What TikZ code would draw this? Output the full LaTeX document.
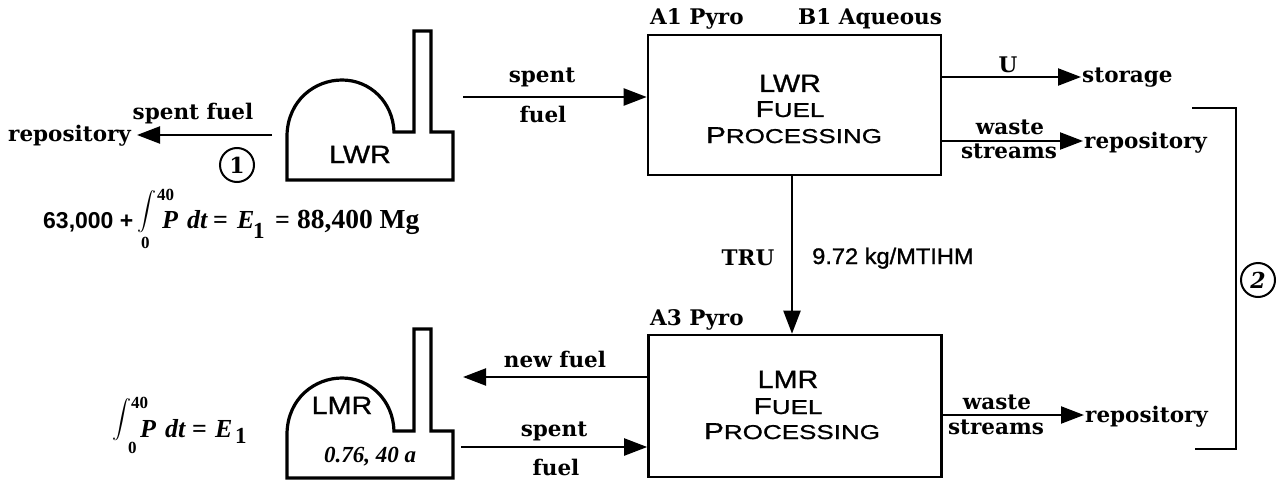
\documentclass[tikz,border=0pt]{standalone}
\usepackage{fontspec}
\usetikzlibrary{arrows.meta}
\setmainfont{Liberation Serif}
\newfontfamily\bkfam{DejaVu Serif}[BoldFont={DejaVu Serif Bold}]
\newfontfamily\copa[FakeStretch=1.15,FakeBold=1]{Liberation Sans}
\newfontfamily\copb[FakeStretch=1.3,FakeBold=1]{Liberation Sans}
\newfontfamily\sansw[FakeStretch=1.05,FakeBold=1.2]{Liberation Sans}
\newfontfamily\sansb{Liberation Sans Bold}
\newcommand{\bk}{\bkfam\bfseries\fontsize{21.5}{24}\selectfont}
\newcommand{\bigc}[1]{{\copa\fontsize{25}{25}\selectfont #1}}
\newcommand{\smc}[2]{{\copb\fontsize{23}{23}\selectfont #1\fontsize{20}{20}\selectfont #2}}
\newcommand{\eqf}{\fontsize{26}{26}\selectfont\bfseries}
\tikzset{
  x=1pt,y=-1pt,
  lab/.style={font=\bk,anchor=base,inner sep=0pt},
  labw/.style={font=\bk,anchor=base west,inner sep=0pt},
  plain/.style={anchor=base,inner sep=0pt},
  plainw/.style={anchor=base west,inner sep=0pt},
  procbox/.style={draw,line width=2.6pt,minimum width=293pt,inner sep=0pt},
  flow/.style={line width=2.2pt,-{Triangle[length=23pt,width=17pt]}},
  reactor/.style={line width=3.2pt,line join=miter},
  bracket/.style={line width=2.4pt},
  ringed/.style={draw,circle,line width=2pt,minimum size=34pt,inner sep=0pt,font=\bkfam\bfseries\fontsize{22}{22}\selectfont},
  intsign/.style={inner sep=0pt,anchor=center}
}
\begin{document}
\begin{tikzpicture}
\useasboundingbox (0,0) rectangle (1287,492);
% process boxes
\node[procbox,minimum height=140pt] (lwrbox) at (794.5,105) {};
\node[procbox,minimum height=142pt] (lmrbox) at (795,406) {};
% reactors
\draw[reactor] (287,180) -- (287,135) .. controls (288,100) and (315,80) .. (342,80) .. controls (370,80) and (393,102) .. (394,132) -- (414,132) -- (414,31) -- (431,31) -- (431,132) -- (453,132) -- (453,180) -- cycle;
\draw[reactor] (287,478) -- (287,433) .. controls (288,398) and (315,378) .. (342,378) .. controls (370,378) and (393,400) .. (394,431) -- (414,431) -- (414,329) -- (431,329) -- (431,431) -- (453,431) -- (453,478) -- cycle;
\node[plain,font=\copa\fontsize{25}{25}\selectfont] (lwrlab) at (360,163) {LWR};
\node[plain,font=\copa\fontsize{25}{25}\selectfont] (lmrlab) at (342,414) {LMR};
\node[plain,font=\fontsize{23}{23}\selectfont\bfseries\itshape] (lmrparam) at (370,462) {0.76, 40 a};
% box texts
\node[plain] (t1a) at (790,92) {\bigc{LWR}};
\node[plain] (t1b) at (790,117) {\smc{F}{UEL}};
\node[plain] (t1c) at (794,143) {\smc{P}{ROCESSING}};
\node[plain] (t2a) at (788,388) {\bigc{LMR}};
\node[plain] (t2b) at (788,414) {\smc{F}{UEL}};
\node[plain] (t2c) at (792,439) {\smc{P}{ROCESSING}};
\node[labw] (a1) at (650,25) {A1 Pyro};
\node[labw] (b1) at (798,25) {B1 Aqueous};
\node[labw] (a3) at (650,325) {A3 Pyro};
% anchors of connectors
\coordinate (rw) at (272,135);
\coordinate (rwend) at (137,135);
\coordinate (sf1) at (463,97);
\coordinate (sf2) at (461,447);
\coordinate (nf) at (463,377);
\coordinate (uend) at (1081,77);
\coordinate (w1end) at (1083,141);
\coordinate (w2end) at (1084,415);
\coordinate (trux) at (792,0);
\coordinate (br1) at (1192,108);
\coordinate (br2) at (1236,108);
\coordinate (br3) at (1236,449);
\coordinate (br4) at (1195,449);
% connectors
\draw[flow] (rw) -- (rwend);
\draw[flow] (sf1) -- (sf1 -| lwrbox.west);
\draw[flow] (sf2) -- (sf2 -| lmrbox.west);
\draw[flow] (nf -| lmrbox.west) -- (nf);
\draw[flow] (uend -| lwrbox.east) -- (uend);
\draw[flow] (w1end -| lwrbox.east) -- (w1end);
\draw[flow] (w2end -| lmrbox.east) -- (w2end);
\draw[flow] (lwrbox.south -| trux) -- (lmrbox.north -| trux);
\draw[bracket] (br1) -- (br2) -- (br3) -- (br4);
% arrow labels
\node[labw] (rep0) at (8,142) {repository};
\node[lab] (sfl) at (193,120) {spent fuel};
\node[ringed] (c1) at (237,165) {1};
\node[lab] (sp1) at (542,83) {spent};
\node[lab] (fu1) at (543,123) {fuel};
\node[lab] (sp2) at (554,436) {spent};
\node[lab] (fu2) at (556,475) {fuel};
\node[lab] (newf) at (555,367) {new fuel};
\node[lab] (ulab) at (1008,73) {U};
\node[labw] (stor) at (1082,83) {storage};
\node[lab] (w1) at (1010,135) {waste};
\node[lab] (s1) at (1009,158) {streams};
\node[labw] (rep1) at (1084,148) {repository};
\node[lab] (w2) at (997,409) {waste};
\node[lab] (s2) at (996,434) {streams};
\node[labw] (rep2) at (1085,422) {repository};
\node[lab] (tru) at (748,265) {TRU};
\node[plainw,font=\sansw\fontsize{22.5}{22.5}\selectfont] (kg) at (812,264) {9.72 kg/MTIHM};
\node[ringed] (c2) at (1258,280) {\itshape 2};
% equation 1
\node[plainw,font=\sansb\fontsize{23}{23}\selectfont] (e0) at (43,228) {63,000 +};
\node[intsign] (i1) at (147,212) {\scalebox{1.9}{$\displaystyle\int$}};
\node[plainw,font=\fontsize{17}{17}\selectfont\bfseries] (u1) at (157,200) {40};
\node[plainw,font=\fontsize{17}{17}\selectfont\bfseries] (l1) at (141,248) {0};
\node[plainw,font=\eqf\itshape] (p1) at (162,228) {P};
\node[plainw,font=\eqf\itshape] (d1) at (187,228) {dt};
\node[plainw,font=\eqf] (q1) at (213,228) {=};
\node[plainw,font=\eqf\itshape] (e1) at (237,228) {E};
\node[plainw,font=\fontsize{23}{23}\selectfont\bfseries] (s11) at (253,238) {1};
\node[plainw,font=\eqf] (q2) at (275,228) {=};
\node[plainw,font=\fontsize{27.5}{27.5}\selectfont\bfseries] (mg) at (297,228) {88,400 Mg};
% equation 2
\node[intsign] (i2) at (122,420) {\scalebox{1.9}{$\displaystyle\int$}};
\node[plainw,font=\fontsize{17}{17}\selectfont\bfseries] (u2) at (131,408) {40};
\node[plainw,font=\fontsize{17}{17}\selectfont\bfseries] (l2) at (128,453) {0};
\node[plainw,font=\eqf\itshape] (p2) at (140,437) {P};
\node[plainw,font=\eqf\itshape] (d2) at (165,437) {dt};
\node[plainw,font=\eqf] (q3) at (192,437) {=};
\node[plainw,font=\eqf\itshape] (e2) at (215,437) {E};
\node[plainw,font=\fontsize{23}{23}\selectfont\bfseries] (s12) at (235,443) {1};
\end{tikzpicture}
\end{document}
